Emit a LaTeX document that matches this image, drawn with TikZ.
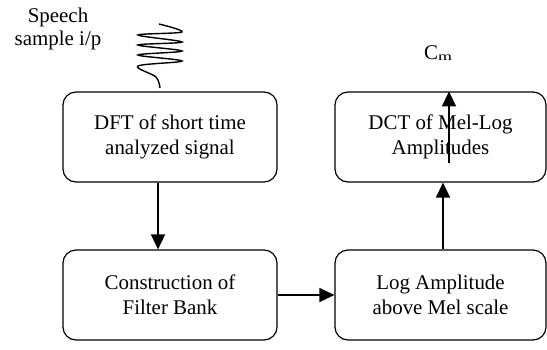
\documentclass[tikz,border=0pt]{standalone}
\usepackage{fontspec}
\usepackage{graphicx}
\setmainfont{Liberation Serif}
\usetikzlibrary{arrows.meta}
\begin{document}
\begin{tikzpicture}[x=1bp,y=-1bp,
  box/.style={draw, line width=1.2bp, rounded corners=13bp, minimum width=214bp, minimum height=90bp, align=center, font=\fontsize{21}{25}\selectfont, inner sep=0pt},
  arr/.style={line width=1.5bp, -{Triangle[length=15bp,width=14bp]}},
  lbl/.style={font=\fontsize{21}{23}\selectfont, align=center, inner sep=0pt}]
\useasboundingbox (0,0) rectangle (547,349);
\node[box] (dft) at (170,137) {DFT of short time\\analyzed signal};
\node[box] (cons) at (170,295) {Construction of\\Filter Bank};
\node[box, minimum width=211bp] (log) at (440.5,295) {Log Amplitude\\above Mel scale};
\node[box, minimum width=211bp] (dct) at (440.5,137) {DCT of Mel-Log\\Amplitudes};
\node[lbl] (speech) at (58,29) {Speech\\sample i/p};
\node[inner sep=0pt, anchor=base west, font=\fontsize{21}{24}\selectfont] (cm) at (424,59) {C\raisebox{-1bp}{\scalebox{1.5}[1]{\fontsize{12}{12}\selectfont m}}};
\coordinate (xa) at (158,0);
\coordinate (xb) at (443,0);
\coordinate (cmfoot) at (449,163);
\draw[arr] (dft.south -| xa) -- (cons.north -| xa);
\draw[arr] (cons.east) -- (log.west);
\draw[arr] (log.north -| xb) -- (dct.south -| xb);
\draw[arr] (cmfoot) -- (cmfoot |- dct.north);
\draw[line width=1.4bp] plot[smooth, tension=0.55] coordinates {(159,24) (182,32) (138,35) (182,42) (138,45) (182,51) (138,55) (182,61) (138,66) (156,77) (160,88)};
\end{tikzpicture}
\end{document}
